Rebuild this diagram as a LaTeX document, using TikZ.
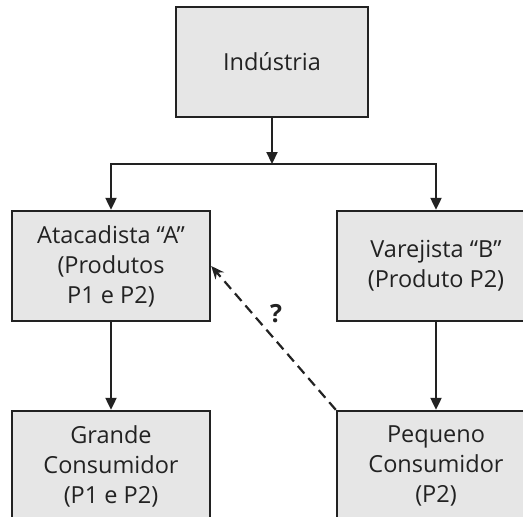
\documentclass[tikz,border=0pt]{standalone}
\usepackage{fontspec}
\setmainfont{Open Sans}
\usetikzlibrary{arrows.meta}
\definecolor{boxfill}{HTML}{E6E6E6}
\definecolor{ink}{HTML}{222222}
\tikzset{
  unit/.style={x=1pt,y=-1pt},
  stage/.style={draw=ink, fill=boxfill, line width=2.4pt, rectangle,
    minimum width=198pt, minimum height=110pt, align=center,
    text=ink, font=\fontsize{23.5}{30}\selectfont, inner sep=0pt},
  flow/.style={draw=ink, line width=2.2pt, -{Triangle[length=12pt,width=11pt]}},
  doubt/.style={draw=ink, line width=2.2pt, dash pattern=on 10pt off 6pt,
    -{Stealth[length=13pt,width=11pt]}}
}
\begin{document}
\begin{tikzpicture}[unit]
  \useasboundingbox (0,0) rectangle (523,517);
  \clip (0,0) rectangle (523,517);
  % supply chain stages
  \node[stage, minimum width=192pt] (ind) at (272,62) {Indústria};
  \node[stage] (ata) at (111,266) {Atacadista “A”\\(Produtos\\P1 e P2)};
  \node[stage] (var) at (436,266) {Varejista “B”\\(Produto P2)};
  \node[stage] (gra) at (111,466) {Grande\\Consumidor\\(P1 e P2)};
  \node[stage] (peq) at (436,466) {Pequeno\\Consumidor\\(P2)};
  % branching point below the industry
  \coordinate (split) at (272,164);
  \draw[flow] (ind) -- (split);
  \draw[flow] (split) -| (ata);
  \draw[flow] (split) -| (var);
  \draw[flow] (ata) -- (gra);
  \draw[flow] (var) -- (peq);
  % uncertain link from small consumer to wholesaler
  \draw[doubt] (peq.north west) -- (ata.east);
  \node[text=ink, font=\fontsize{25}{28}\selectfont\bfseries] (q) at (276,314) {?};
\end{tikzpicture}
\end{document}
